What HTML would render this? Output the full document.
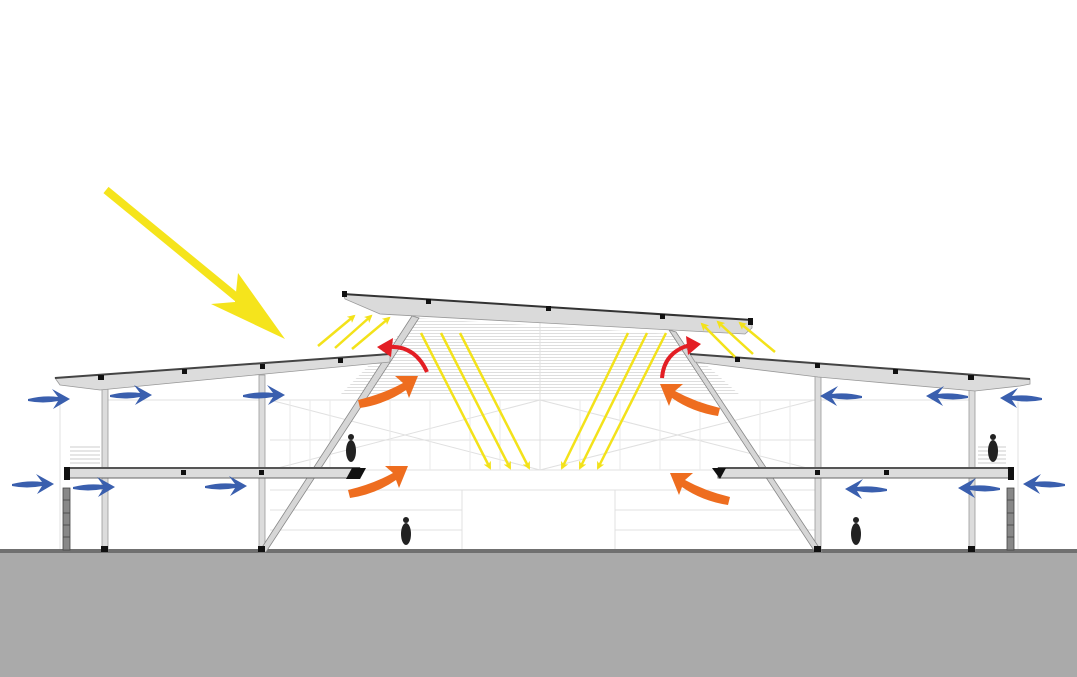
<!DOCTYPE html>
<html><head><meta charset="utf-8"><style>html,body{margin:0;padding:0;background:#fff}svg{display:block}</style></head>
<body>
<svg width="1077" height="677" viewBox="0 0 1077 677" xmlns="http://www.w3.org/2000/svg">
<defs>
<pattern id="hatch" width="4" height="3" patternUnits="userSpaceOnUse"><rect width="4" height="1" fill="#dedede"/></pattern>
<path id="ba" d="M0,1 Q16,-3 30,-1 L24,-9 L42,1 L25,11 L30,3 Q15,6 0,3 Z" fill="#3a5fae"/>
<path id="oa" d="M0,0 Q25,-6 45,-17 L37,-24 L60,-24 L51,-2 L48,-10 Q28,4 2,8 Z" fill="#ee6d1f"/>
<marker id="ym" markerWidth="8" markerHeight="8" refX="6" refY="4" orient="auto" markerUnits="userSpaceOnUse" viewBox="0 0 8 8"><path d="M0,0 L8,4 L0,8 L2,4Z" fill="#f3e21a"/></marker>
</defs>
<polygon points="415,318 672,334 740,395 340,395" fill="url(#hatch)"/>
<g stroke="#e0e0e0" stroke-width="1" fill="none">
<line x1="270" y1="400" x2="815" y2="400"/><line x1="270" y1="440" x2="815" y2="440"/>
<line x1="270" y1="470" x2="815" y2="470"/><line x1="270" y1="490" x2="815" y2="490"/>
<line x1="270" y1="510" x2="462" y2="510"/><line x1="615" y1="510" x2="815" y2="510"/>
<line x1="270" y1="530" x2="462" y2="530"/><line x1="615" y1="530" x2="815" y2="530"/>
<line x1="462" y1="490" x2="462" y2="550"/><line x1="615" y1="490" x2="615" y2="550"/>
<line x1="270" y1="400" x2="540" y2="470"/><line x1="540" y1="400" x2="270" y2="470"/>
<line x1="540" y1="400" x2="815" y2="470"/><line x1="815" y1="400" x2="540" y2="470"/>
<line x1="540" y1="320" x2="540" y2="470"/>
<line x1="60" y1="398" x2="60" y2="550"/><line x1="1018" y1="398" x2="1018" y2="550"/>
<line x1="105" y1="400" x2="262" y2="400"/><line x1="818" y1="400" x2="972" y2="400"/>
</g>
<g stroke="#eaeaea" stroke-width="1">
<line x1="290" y1="400" x2="290" y2="470"/><line x1="310" y1="400" x2="310" y2="470"/><line x1="330" y1="400" x2="330" y2="470"/><line x1="390" y1="400" x2="390" y2="470"/><line x1="430" y1="400" x2="430" y2="470"/><line x1="470" y1="400" x2="470" y2="470"/><line x1="500" y1="400" x2="500" y2="470"/><line x1="580" y1="400" x2="580" y2="470"/><line x1="620" y1="400" x2="620" y2="470"/><line x1="660" y1="400" x2="660" y2="470"/><line x1="700" y1="400" x2="700" y2="470"/><line x1="760" y1="400" x2="760" y2="470"/><line x1="790" y1="400" x2="790" y2="470"/>
</g>
<rect x="0" y="552" width="1077" height="125" fill="#aaaaaa"/>
<rect x="0" y="549" width="1077" height="4" fill="#707070"/>
<g fill="#dcdcdc" stroke="#999" stroke-width="0.8">
<rect x="102" y="382" width="6" height="168"/><rect x="259" y="375" width="6" height="175"/>
<rect x="815" y="375" width="6" height="175"/><rect x="969" y="382" width="6" height="168"/>
</g>
<polygon points="412,316 419,318 266,552 259,552" fill="#d6d6d6" stroke="#888" stroke-width="0.8"/>
<polygon points="669,330 676,332 822,552 815,552" fill="#d6d6d6" stroke="#888" stroke-width="0.8"/>
<polygon points="55,378 390,354 390,362 265,374 100,390 60,385" fill="#dcdcdc" stroke="#999" stroke-width="0.8"/>
<line x1="55" y1="378" x2="390" y2="354" stroke="#444" stroke-width="2"/>
<polygon points="690,354 1030,379 1030,384 1020,386 975,391 818,377 695,362" fill="#dcdcdc" stroke="#999" stroke-width="0.8"/>
<line x1="690" y1="354" x2="1030" y2="379" stroke="#444" stroke-width="2"/>
<polygon points="343,294 752,320 752,328 745,334 380,314 345,299" fill="#dadada" stroke="#999" stroke-width="0.8"/>
<line x1="343" y1="294" x2="752" y2="320" stroke="#333" stroke-width="2"/>
<g fill="#111">
<rect x="342" y="291" width="5" height="6"/><rect x="426" y="299" width="5" height="5"/><rect x="546" y="306" width="5" height="5"/><rect x="660" y="314" width="5" height="5"/><rect x="748" y="318" width="5" height="7"/>
<rect x="98" y="375" width="6" height="5"/><rect x="182" y="369" width="5" height="5"/><rect x="260" y="364" width="5" height="5"/><rect x="338" y="358" width="5" height="5"/>
<rect x="735" y="357" width="5" height="5"/><rect x="815" y="363" width="5" height="5"/><rect x="893" y="369" width="5" height="5"/><rect x="968" y="375" width="6" height="5"/>
</g>
<rect x="66" y="468" width="294" height="10" fill="#dcdcdc" stroke="#666" stroke-width="1"/>
<line x1="66" y1="468" x2="360" y2="468" stroke="#555" stroke-width="2"/>
<polygon points="352,468 366,468 360,479 346,479" fill="#111"/>
<rect x="718" y="468" width="294" height="10" fill="#dcdcdc" stroke="#666" stroke-width="1"/>
<line x1="718" y1="468" x2="1012" y2="468" stroke="#555" stroke-width="2"/>
<polygon points="712,468 726,468 720,479" fill="#111"/>
<g fill="#111">
<rect x="64" y="467" width="6" height="13"/><rect x="1008" y="467" width="6" height="13"/>
<rect x="181" y="470" width="5" height="5"/><rect x="259" y="470" width="5" height="5"/><rect x="815" y="470" width="5" height="5"/><rect x="884" y="470" width="5" height="5"/>
<rect x="101" y="546" width="7" height="6"/><rect x="258" y="546" width="7" height="6"/><rect x="814" y="546" width="7" height="6"/><rect x="968" y="546" width="7" height="6"/>
</g>
<g fill="#888" stroke="#444" stroke-width="0.8">
<rect x="63" y="488" width="7" height="62"/><rect x="1007" y="488" width="7" height="62"/>
</g>
<g stroke="#444" stroke-width="0.8"><line x1="63" y1="500" x2="70" y2="500"/><line x1="63" y1="513" x2="70" y2="513"/><line x1="63" y1="525" x2="70" y2="525"/><line x1="63" y1="537" x2="70" y2="537"/><line x1="1007" y1="500" x2="1014" y2="500"/><line x1="1007" y1="513" x2="1014" y2="513"/><line x1="1007" y1="525" x2="1014" y2="525"/><line x1="1007" y1="537" x2="1014" y2="537"/></g>
<g stroke="#999" stroke-width="0.6"><line x1="70" y1="447" x2="100" y2="447"/><line x1="70" y1="451" x2="100" y2="451"/><line x1="70" y1="455" x2="100" y2="455"/><line x1="70" y1="459" x2="100" y2="459"/><line x1="70" y1="463" x2="100" y2="463"/>
<line x1="978" y1="447" x2="1006" y2="447"/><line x1="978" y1="451" x2="1006" y2="451"/><line x1="978" y1="455" x2="1006" y2="455"/><line x1="978" y1="459" x2="1006" y2="459"/><line x1="978" y1="463" x2="1006" y2="463"/></g>
<g fill="#222">
<ellipse cx="351" cy="451" rx="5" ry="11"/><circle cx="351" cy="437" r="3"/>
<ellipse cx="406" cy="534" rx="5" ry="11"/><circle cx="406" cy="520" r="3"/>
<ellipse cx="856" cy="534" rx="5" ry="11"/><circle cx="856" cy="520" r="3"/>
<ellipse cx="993" cy="451" rx="5" ry="11"/><circle cx="993" cy="437" r="3"/>
</g>
<line x1="106" y1="190" x2="240" y2="300" stroke="#f5e41c" stroke-width="8"/>
<polygon points="285,339 211,304 235,302 238,273" fill="#f5e41c"/>
<g stroke="#f3e21a" stroke-width="2.5" marker-end="url(#ym)" fill="none">
<line x1="318" y1="346" x2="354" y2="316"/><line x1="335" y1="348" x2="371" y2="316"/><line x1="352" y1="349" x2="389" y2="318"/>
<line x1="735" y1="357" x2="702" y2="324"/><line x1="753" y1="354" x2="718" y2="322"/><line x1="775" y1="352" x2="740" y2="323"/>
<line x1="421" y1="333" x2="490" y2="468"/><line x1="441" y1="333" x2="510" y2="468"/><line x1="460" y1="333" x2="529" y2="468"/>
<line x1="628" y1="333" x2="562" y2="468"/><line x1="647" y1="333" x2="580" y2="468"/><line x1="666" y1="333" x2="598" y2="468"/>
</g>
<path d="M427,372 Q415,345 388,347" stroke="#e31e24" stroke-width="4" fill="none"/>
<polygon points="377,347 393,338 391,357" fill="#e31e24"/>
<path d="M662,378 Q664,352 690,345" stroke="#e31e24" stroke-width="4" fill="none"/>
<polygon points="701,344 686,336 688,355" fill="#e31e24"/>
<use href="#oa" transform="translate(358,400)"/>
<use href="#oa" transform="translate(348,490)"/>
<use href="#oa" transform="translate(720,408) scale(-1,1)"/>
<use href="#oa" transform="translate(730,497) scale(-1,1)"/>
<use href="#ba" transform="translate(28,398)"/>
<use href="#ba" transform="translate(110,394)"/>
<use href="#ba" transform="translate(243,394)"/>
<use href="#ba" transform="translate(12,483)"/>
<use href="#ba" transform="translate(73,486)"/>
<use href="#ba" transform="translate(205,485)"/>
<use href="#ba" transform="translate(862,395) scale(-1,1)"/>
<use href="#ba" transform="translate(968,395) scale(-1,1)"/>
<use href="#ba" transform="translate(1042,397) scale(-1,1)"/>
<use href="#ba" transform="translate(887,488) scale(-1,1)"/>
<use href="#ba" transform="translate(1000,487) scale(-1,1)"/>
<use href="#ba" transform="translate(1065,483) scale(-1,1)"/>
</svg>
</body></html>
